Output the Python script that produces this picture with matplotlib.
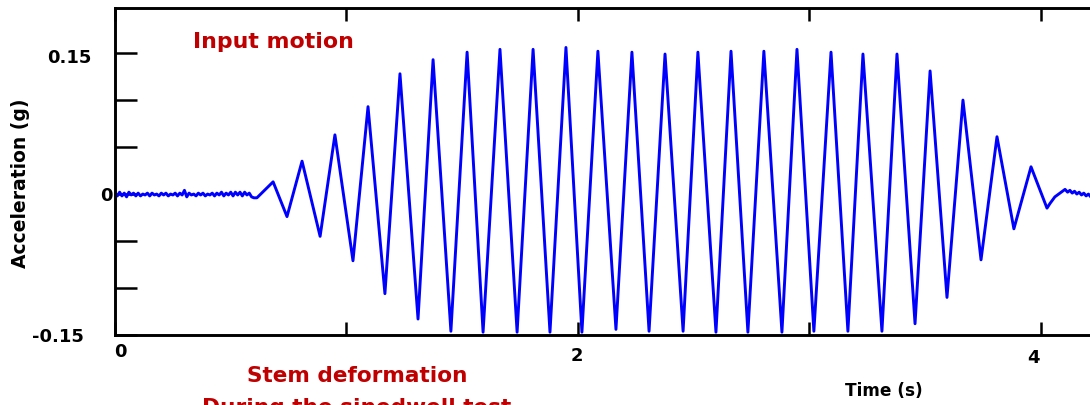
import numpy as np
import matplotlib.pyplot as plt

# ---------------------------------------------------------
# Sine-dwell input motion, acceleration record (g) vs time (s)
# ---------------------------------------------------------

# quiet part of the record before shaking (sampled every 0.01 s)
quiet_t = np.round(np.arange(0.0, 0.605, 0.01), 3)
quiet_acc = [0.000, -0.002, 0.002, -0.002, 0.001, -0.003, 0.002, -0.001, 0.001, -0.002,
             0.001, -0.002, 0.000, -0.001, 0.001, -0.002, 0.001, -0.001, 0.000, -0.002,
             0.001, -0.001, 0.001, -0.002, 0.000, -0.001, 0.001, -0.002, 0.001, -0.001,
             0.004, -0.003, 0.001, -0.001, 0.000, -0.002, 0.001, -0.001, 0.001, -0.002,
             0.000, -0.001, 0.001, -0.002, 0.001, -0.001, 0.002, -0.002, 0.001, -0.001,
             0.002, -0.002, 0.002, -0.001, 0.002, -0.002, 0.002, -0.001, 0.001, -0.003,
             -0.004]

# peaks and troughs of the dwell (ramp up, ~7 Hz steady part, ramp down)
peak_t = [0.613, 0.683, 0.743, 0.808, 0.886, 0.950, 1.028, 1.093, 1.166, 1.231,
          1.309, 1.374, 1.451, 1.521, 1.590, 1.663, 1.737, 1.806, 1.879, 1.948,
          2.017, 2.086, 2.164, 2.233, 2.307, 2.376, 2.454, 2.518, 2.596, 2.661,
          2.734, 2.803, 2.881, 2.946, 3.019, 3.093, 3.166, 3.231, 3.313, 3.378,
          3.456, 3.521, 3.594, 3.663, 3.741, 3.810, 3.883, 3.957, 4.026]
peak_acc = [-0.004, 0.013, -0.024, 0.035, -0.045, 0.063, -0.071, 0.093, -0.106, 0.128,
            -0.133, 0.143, -0.146, 0.151, -0.147, 0.154, -0.147, 0.154, -0.147, 0.156,
            -0.147, 0.152, -0.144, 0.151, -0.146, 0.149, -0.146, 0.151, -0.147, 0.152,
            -0.147, 0.152, -0.147, 0.154, -0.146, 0.151, -0.146, 0.149, -0.146, 0.149,
            -0.138, 0.131, -0.110, 0.100, -0.070, 0.061, -0.037, 0.029, -0.015]

# free vibration tail at the end of the record
tail_t = [4.039, 4.060, 4.082, 4.104, 4.115, 4.125, 4.135, 4.145, 4.155, 4.165,
          4.175, 4.185, 4.195, 4.205, 4.215, 4.230, 4.250]
tail_acc = [-0.010, -0.003, 0.001, 0.005, 0.002, 0.004, 0.001, 0.003, 0.000, 0.002,
            -0.001, 0.001, -0.002, 0.000, -0.003, -0.001, -0.002]

time = np.concatenate([quiet_t, peak_t, tail_t])
acc = np.concatenate([quiet_acc, peak_acc, tail_acc])

# tick values and labels
xtick_vals = [0, 2, 4]
xtick_minor = [1, 3]
ytick_vals = [0.15, 0, -0.15]
ytick_all = [-0.15, -0.1, -0.05, 0, 0.05, 0.1, 0.15]

RED = "#C00000"
BOLD = dict(fontweight="bold", family="DejaVu Sans")

fig = plt.figure(figsize=(10.9, 4.06), dpi=100)
ax = fig.add_axes([115 / 1090, 70 / 406, 985 / 1090, 327 / 406])

ax.plot(time, acc, color="#0000FF", lw=2.1, solid_joinstyle="round")

ax.set_xlim(0, 4.255)
ax.set_ylim(-0.15, 0.198)

for sp in ax.spines.values():
    sp.set_linewidth(2.1)

ax.set_xticks(xtick_vals)
ax.set_xticks(xtick_minor, minor=True)
ax.set_yticks(ytick_all)
ax.tick_params(axis="x", which="both", direction="in", length=9.5, width=1.8,
               top=True, labelbottom=False)
ax.tick_params(axis="y", which="both", direction="in", length=16, width=1.8,
               labelleft=False)

# tick labels, nudged like the original plotting package places them
xlab_off = [(5, -21), (-1, -25), (-8, -27)]
for v, (dx, dy) in zip(xtick_vals, xlab_off):
    ax.annotate(str(v), xy=(v, 0), xycoords=("data", "axes fraction"),
                xytext=(dx, dy), textcoords="offset pixels",
                ha="center", va="baseline", fontsize=13, annotation_clip=False, **BOLD)

ylab_text = ["0.15", "0", "-0.15"]
ylab_off = [(-23, -9), (-2, -6), (-31, -6)]
for v, s, (dx, dy) in zip(ytick_vals, ylab_text, ylab_off):
    ax.annotate(s, xy=(0, v), xycoords=("axes fraction", "data"),
                xytext=(dx, dy), textcoords="offset pixels",
                ha="right", va="baseline", fontsize=13, annotation_clip=False, **BOLD)

fig.text(20.5 / 1090, 1 - 183.5 / 406, "Acceleration (g)", rotation=90,
         ha="center", va="center", fontsize=13.5, **BOLD)
fig.text(884 / 1090, 1 - 396 / 406, "Time (s)", ha="center", va="baseline",
         fontsize=12.2, **BOLD)

fig.text(273 / 1090, 1 - 48 / 406, "Input motion", color=RED, ha="center",
         va="baseline", fontsize=15.8, **BOLD)
fig.text(357 / 1090, 1 - 382 / 406, "Stem deformation", color=RED, ha="center",
         va="baseline", fontsize=15.6, **BOLD)
fig.text(357 / 1090, 1 - 414 / 406, "During the sinedwell test", color=RED,
         ha="center", va="baseline", fontsize=15.6, **BOLD)

fig.savefig("out.png", dpi=100)
